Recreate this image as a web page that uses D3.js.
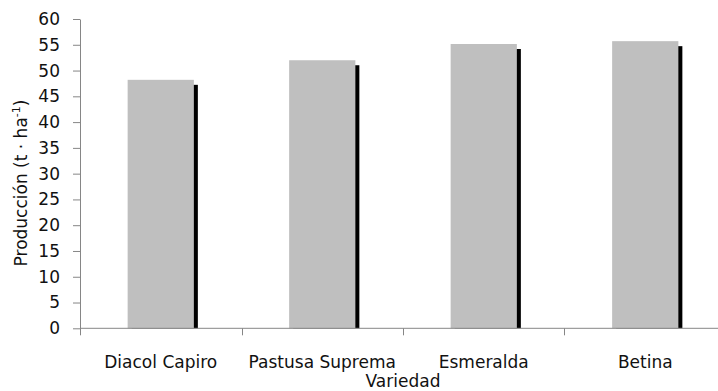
<!DOCTYPE html>
<html>
<head>
<meta charset="utf-8">
<script src="https://cdn.jsdelivr.net/npm/d3@7"></script>
<style>
  body { margin: 0; background: #fff; }
  text { font-family: "DejaVu Sans", sans-serif; fill: #111; }
</style>
</head>
<body>
<div id="chart"></div>
<script>
// Data
const varieties = ["Diacol Capiro", "Pastusa Suprema", "Esmeralda", "Betina"];
const production = [48.2, 52.0, 55.15, 55.7];
const yTicks = [0, 5, 10, 15, 20, 25, 30, 35, 40, 45, 50, 55, 60];

const w = 718, h = 391;
const padLeft = 80, padRight = 726, padTop = 19, padBottom = 328.3;
const fontSize = '17px';

const svg = d3.select('#chart')
	.append('svg')
	.attr('width', w)
	.attr('height', h);

const xScale = d3.scaleBand()
	.domain(varieties)
	.range([padLeft, padRight])
	.paddingInner(0.59)
	.paddingOuter(0.295);

const yScale = d3.scaleLinear()
	.domain([0, 60])
	.range([padBottom, padTop]);

// shadow behind each bar
svg.selectAll('rect.shadow')
	.data(varieties)
	.enter()
	.append('rect')
	.attr('class', 'shadow')
	.attr('x', (d) => xScale(d) + 4)
	.attr('y', (d, i) => yScale(production[i]) + 5)
	.attr('width', xScale.bandwidth())
	.attr('height', (d, i) => padBottom - yScale(production[i]) - 5)
	.attr('fill', '#000');

svg.selectAll('rect.bar')
	.data(varieties)
	.enter()
	.append('rect')
	.attr('class', 'bar')
	.attr('x', (d) => xScale(d))
	.attr('y', (d, i) => yScale(production[i]))
	.attr('width', xScale.bandwidth())
	.attr('height', (d, i) => padBottom - yScale(production[i]))
	.attr('fill', '#bfbfbf');

// y axis
const yAxis = svg.append('g')
	.attr('transform', 'translate(' + padLeft + ',0)')
	.call(d3.axisLeft(yScale).tickValues(yTicks).tickSize(7).tickPadding(13).tickSizeOuter(0));
yAxis.selectAll('text').style('font-size', fontSize);

// x axis: ticks at band boundaries
const bounds = varieties.map((d) => xScale(d) - xScale.step() * xScale.paddingInner() / 2);
const xAxis = svg.append('g')
	.attr('transform', 'translate(0,' + padBottom + ')');
xAxis.append('line')
	.attr('x1', padLeft).attr('x2', w)
	.attr('stroke', '#868686');
xAxis.selectAll('line.tick')
	.data(bounds)
	.enter()
	.append('line')
	.attr('class', 'tick')
	.attr('x1', (d) => Math.round(d) + 0.5).attr('x2', (d) => Math.round(d) + 0.5)
	.attr('y1', 0).attr('y2', 7)
	.attr('stroke', '#868686');
xAxis.selectAll('text')
	.data(varieties)
	.enter()
	.append('text')
	.attr('x', (d) => xScale(d) + xScale.bandwidth() / 2)
	.attr('y', 39.5)
	.attr('text-anchor', 'middle')
	.style('font-size', fontSize)
	.text((d) => d);

svg.selectAll('.domain, .tick line').attr('stroke', '#868686');

// axis titles
svg.append('text')
	.attr('x', (padLeft + padRight) / 2)
	.attr('y', 387)
	.attr('text-anchor', 'middle')
	.style('font-size', fontSize)
	.text('Variedad');

const yTitle = svg.append('text')
	.attr('transform', 'translate(27,183) rotate(-90)')
	.attr('text-anchor', 'middle')
	.style('font-size', fontSize);
yTitle.append('tspan').text('Producción (t · ha');
yTitle.append('tspan').attr('dy', -7).style('font-size', '11px').text('-1');
yTitle.append('tspan').attr('dy', 7).text(')');
</script>
</body>
</html>
